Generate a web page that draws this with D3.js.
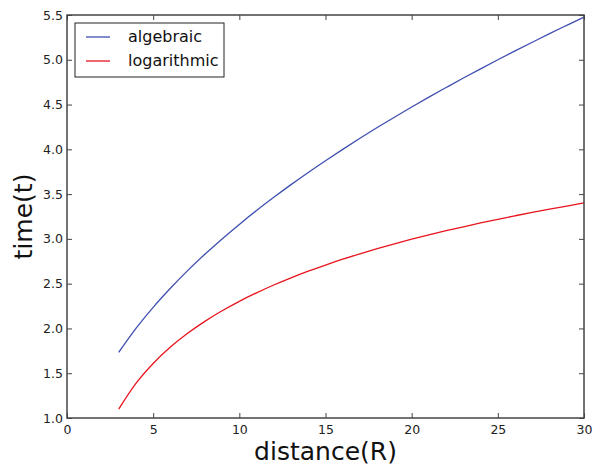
<!DOCTYPE html>
<html><head><meta charset="utf-8">
<script src="https://cdn.jsdelivr.net/npm/d3@7"></script>
<style>
html,body{margin:0;padding:0;background:#fff;}
svg{display:block;font-family:"DejaVu Sans",sans-serif;}
</style></head>
<body>
<svg id="chart" width="595" height="465"></svg>
<script>
const distance = [3,4,5,6,7,8,9,10,11,12,13,14,15,16,17,18,19,20,21,22,23,24,25,26,27,28,29,30];
const algebraic = [1.732,2.000,2.236,2.449,2.646,2.828,3.000,3.162,3.317,3.464,3.606,3.742,3.873,4.000,4.123,4.243,4.359,4.472,4.583,4.690,4.796,4.899,5.000,5.099,5.196,5.292,5.385,5.477];
const logarithmic = [1.099,1.386,1.609,1.792,1.946,2.079,2.197,2.303,2.398,2.485,2.565,2.639,2.708,2.773,2.833,2.890,2.944,2.996,3.045,3.091,3.135,3.178,3.219,3.258,3.296,3.332,3.367,3.401];
const xTicks = [0,5,10,15,20,25,30];
const yTicks = [1.0,1.5,2.0,2.5,3.0,3.5,4.0,4.5,5.0,5.5];
const seriesNames = ["algebraic","logarithmic"];
const seriesColors = ["#3f4fb0","#e8141e"];

(function(){
const svg = d3.select("#chart");
const L = 67, R = 584, T = 15, B = 418;
const x = d3.scaleLinear().domain([0,30]).range([L,R]);
const y = d3.scaleLinear().domain([1.0,5.5]).range([B,T]);
const frameColor = "#444";
const tickLen = 5;

// curves
const line = d3.line().x(d=>x(d[0])).y(d=>y(d[1])).curve(d3.curveMonotoneX);
[algebraic, logarithmic].forEach((vals,i)=>{
  svg.append("path")
    .datum(distance.map((d,j)=>[d,vals[j]]))
    .attr("fill","none").attr("stroke",seriesColors[i]).attr("stroke-width",1.3)
    .attr("d",line);
});

// axes (ticks inward)
const fmtY = d3.format(".1f");
const gBottom = svg.append("g").attr("transform",`translate(0,${B})`)
  .call(d3.axisBottom(x).tickValues(xTicks).tickSizeInner(-tickLen).tickSizeOuter(0).tickPadding(7));
const gTop = svg.append("g").attr("transform",`translate(0,${T})`)
  .call(d3.axisTop(x).tickValues(xTicks).tickSizeInner(-tickLen).tickSizeOuter(0).tickFormat(""));
const gLeft = svg.append("g").attr("transform",`translate(${L},0)`)
  .call(d3.axisLeft(y).tickValues(yTicks).tickSizeInner(-tickLen).tickSizeOuter(0).tickPadding(4).tickFormat(fmtY));
const gRight = svg.append("g").attr("transform",`translate(${R},0)`)
  .call(d3.axisRight(y).tickValues(yTicks).tickSizeInner(-tickLen).tickSizeOuter(0).tickFormat(""));
[gBottom,gTop,gLeft,gRight].forEach(g=>{
  g.select(".domain").remove();
  g.selectAll(".tick line").attr("stroke",frameColor).attr("stroke-width",1);
  g.selectAll("text").attr("font-family","DejaVu Sans").attr("font-size",12.5).attr("fill","#222");
});

// frame
svg.append("rect").attr("x",L).attr("y",T).attr("width",R-L).attr("height",B-T)
  .attr("fill","none").attr("stroke",frameColor).attr("stroke-width",1.5);

// axis labels
svg.append("text").attr("x",(L+R)/2).attr("y",460).attr("text-anchor","middle")
  .attr("font-size",25).attr("fill","#111").text("distance(R)");
svg.append("text").attr("transform",`translate(32,${(T+B)/2}) rotate(-90)`).attr("text-anchor","middle")
  .attr("font-size",25).attr("fill","#111").text("time(t)");

// legend
const lg = svg.append("g");
lg.append("rect").attr("x",75).attr("y",23).attr("width",149).attr("height",54)
  .attr("fill","#fff").attr("stroke","#222").attr("stroke-width",1);
seriesNames.forEach((n,i)=>{
  const yy = 37 + i*24;
  lg.append("line").attr("x1",86).attr("x2",110).attr("y1",yy).attr("y2",yy)
    .attr("stroke",seriesColors[i]).attr("stroke-width",1.3);
  lg.append("text").attr("x",128).attr("y",yy+5).attr("font-size",16).attr("fill","#111").text(n);
});
})();
</script>
</body></html>
